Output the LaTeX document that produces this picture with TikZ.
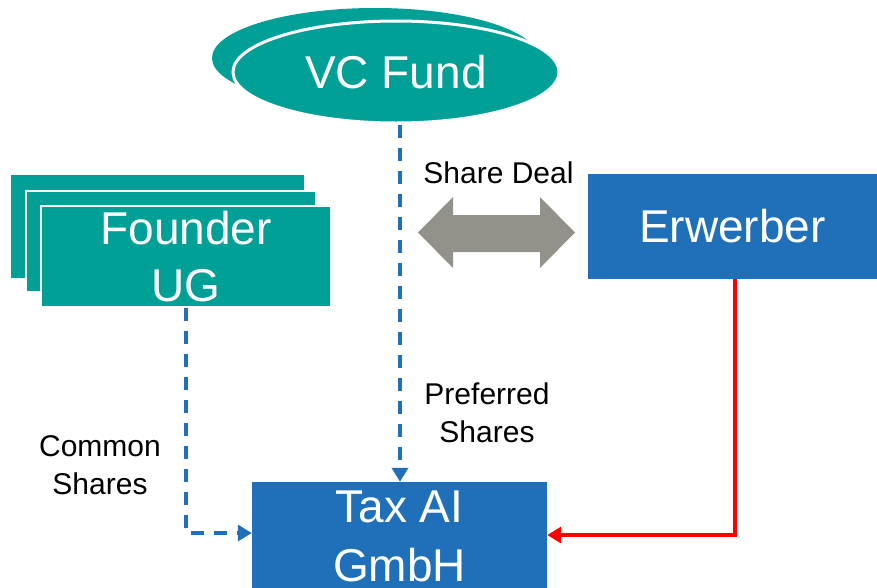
\documentclass[tikz,border=0pt]{standalone}
\usepackage{fontspec}
\setmainfont{Liberation Sans}
\usetikzlibrary{shapes.geometric,arrows.meta}
\definecolor{tealc}{HTML}{00A096}
\definecolor{bluec}{HTML}{1F70B8}
\definecolor{grayc}{HTML}{92928A}
\definecolor{redc}{HTML}{FF0000}
\tikzset{
  tealbox/.style={rectangle, fill=tealc, draw=white, line width=2.5pt, inner sep=0pt, minimum width=290pt, minimum height=101pt, text=white, align=center},
  bluebox/.style={rectangle, fill=bluec, inner sep=0pt, text=white, align=center},
  bigtext/.style={font=\fontsize{46}{57}\selectfont},
  lbl/.style={font=\fontsize{30}{38}\selectfont, align=center, inner sep=0pt, text=black},
  dashconn/.style={draw=bluec, line width=3.5pt, dash pattern=on 13pt off 10pt, -{Triangle[length=14pt,width=16pt]}},
  redconn/.style={draw=redc, line width=3.2pt, -{Triangle[length=14pt,width=16pt]}}
}
\begin{document}
\begin{tikzpicture}[x=1pt,y=-1pt]
\useasboundingbox (0,0) rectangle (877,587);
% VC Fund
\node[ellipse, fill=tealc, inner sep=0pt, minimum width=326pt, minimum height=100pt] (vcback) at (375,58) {};
\node[ellipse, fill=tealc, draw=white, line width=3pt, inner sep=0pt, minimum width=326pt, minimum height=102pt, text=white, bigtext] (vc) at (396,72) {VC Fund};
% Founder UG
\node[tealbox, minimum width=295pt, minimum height=105pt] (f3) at (157.5,226.5) {};
\node[tealbox] (f2) at (171,241.5) {};
\node[tealbox, bigtext] (founder) at (186,256.5) {Founder\\UG};
% Erwerber
\node[bluebox, minimum width=290pt, minimum height=105pt, bigtext] (erw) at (732.5,226.5) {Erwerber};
% Tax AI GmbH
\node[bluebox, minimum width=295pt, minimum height=108pt, font=\fontsize{46}{59}\selectfont] (tax) at (399.5,536) {Tax AI\\GmbH};
% Share deal double arrow
\fill[grayc] (418,232.5) -- (453,197) -- (453,215) -- (540,215) -- (540,197) -- (575,232.5) -- (540,268) -- (540,252) -- (453,252) -- (453,268) -- cycle;
% Labels
\node[lbl, anchor=base] (sd) at (498.5,183) {Share Deal};
\node[lbl, anchor=center] (pref) at (487,413) {Preferred\\Shares};
\node[lbl, anchor=center] (common) at (100,465) {Common\\Shares};
% Connectors
\coordinate (fdown) at (186,533);
\draw[dashconn] (vc.south -| 400,0) -- (tax.north -| 400,0);
\draw[dashconn] (founder.south) -- (fdown) -- (tax.west |- fdown);
\coordinate (rdown) at (735,535);
\draw[redconn] (erw.south -| rdown) -- (rdown) -- (tax.east |- rdown);
\end{tikzpicture}
\end{document}
